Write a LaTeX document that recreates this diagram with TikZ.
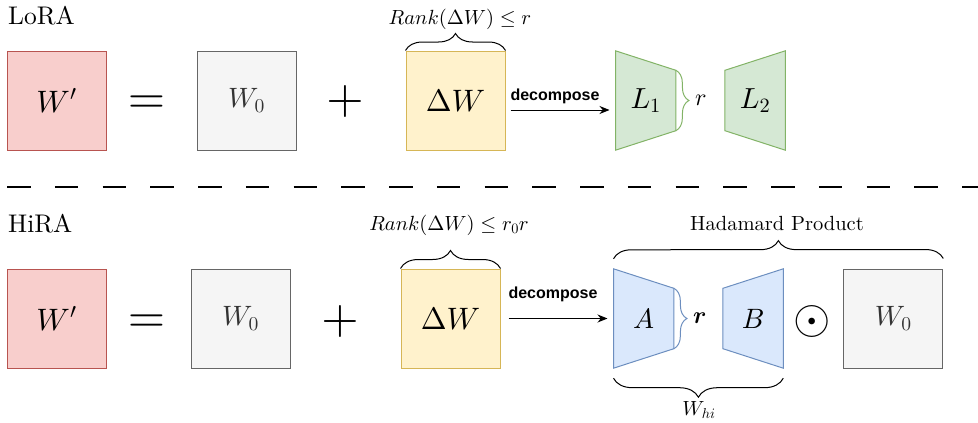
\documentclass[tikz,border=0pt]{standalone}
\usepackage{fontspec}
\usepackage{bm}
\setmainfont{lmroman10-regular.otf}
\newfontfamily\decfont{Liberation Sans}
\DeclareFontShape{OML}{cmm}{m}{it}{<->cmmi10}{}
\DeclareFontShape{OML}{cmm}{b}{it}{<->cmmib10}{}
\DeclareFontShape{OT1}{cmr}{m}{n}{<->cmr10}{}
\DeclareFontShape{OMS}{cmsy}{m}{n}{<->cmsy10}{}
\usetikzlibrary{positioning,arrows.meta,decorations.pathreplacing,backgrounds}
\definecolor{redF}{HTML}{F8CECC}
\definecolor{redD}{HTML}{B85450}
\definecolor{greyF}{HTML}{F5F5F5}
\definecolor{greyD}{HTML}{666666}
\definecolor{greyT}{HTML}{333333}
\definecolor{yelF}{HTML}{FFF2CC}
\definecolor{yelD}{HTML}{D6B656}
\definecolor{grnF}{HTML}{D5E8D4}
\definecolor{grnD}{HTML}{82B366}
\definecolor{bluF}{HTML}{DAE8FC}
\definecolor{bluD}{HTML}{6C8EBF}

\begin{document}
\begin{tikzpicture}[x=1pt, y=-1pt,
  every node/.style={inner sep=0pt},
  mat/.style={draw, line width=1pt, minimum size=99pt, font=\fontsize{31}{34}\selectfont},
  redm/.style={mat, fill=redF, draw=redD},
  greym/.style={mat, fill=greyF, draw=greyD, text=greyT, font=\fontsize{28}{30}\selectfont},
  yelm/.style={mat, fill=yelF, draw=yelD},
  trap/.style={minimum width=60pt, minimum height=99pt, font=\fontsize{28}{30}\selectfont},
  grnT/.style={fill=grnF, draw=grnD, line width=1pt},
  bluT/.style={fill=bluF, draw=bluD, line width=1pt},
  op/.style={font=\fontsize{48}{50}\selectfont, text height=24pt, text depth=0pt},
  ttl/.style={anchor=west, font=\fontsize{25.5}{28}\selectfont},
  rk/.style={font=\fontsize{20.5}{24}\selectfont},
  rlbl/.style={font=\fontsize{24}{26}\selectfont},
  brc/.style={decorate, decoration={brace, amplitude=#1}, line width=1pt},
  brc/.default=17pt,
  dec/.style={-{Stealth[length=10pt,width=8pt]}, line width=1pt},
  dlbl/.style={font=\decfont\bfseries\fontsize{16}{18}\selectfont},
  sep/.style={line width=1.8pt, dash pattern=on 23.5pt off 24.25pt}]
\useasboundingbox (0,0) rectangle (978,423);

% LoRA
\node[ttl] (lora) at (8,15.5) {LoRA};
\node[redm] (Wp1) at (56.5,100.5) {$W'$};
\node[greym, right=90pt of Wp1] (W01) {$W_0$};
\node[yelm, right=109pt of W01] (dW1) {$\Delta W$};
\node[trap, right=110pt of dW1, font=\fontsize{29}{30}\selectfont] (L1) {$L_1$};
\node[trap, right=49pt of L1, font=\fontsize{29}{30}\selectfont] (L2) {$L_2$};
\node[op] (eq1) at (146.5,101) {$=$};
\node[op] (pl1) at (345,101) {$+$};
\node[rlbl, right=19pt of L1] (r1) {$r$};
\node[rk] (rk1) at (460,19) {$Rank(\Delta W)\leq r$};
\begin{scope}[on background layer]
\draw[grnT] (L1.north west) -- ([yshift=-19.5pt]L1.north east) -- ([yshift=19.5pt]L1.south east) -- (L1.south west) -- cycle;
\draw[grnT] ([yshift=-19.5pt]L2.north west) -- (L2.north east) -- (L2.south east) -- ([yshift=19.5pt]L2.south west) -- cycle;
\end{scope}
\draw[brc] (dW1.north west) -- (dW1.north east);
\draw[brc=13pt, draw=grnD] ([yshift=-19.5pt]L1.north east) -- ([yshift=19.5pt]L1.south east);
\draw[dec] ([xshift=5pt,yshift=-9.5pt]dW1.east) -- ([xshift=-6pt,yshift=-9.5pt]L1.west)
  node[dlbl, midway, above=6pt, xshift=-5pt] (dc1) {decompose};

% separator
\coordinate (sepL) at (7,187);
\coordinate (sepR) at (978,187);
\draw[sep] (sepL) -- (sepR);

% HiRA
\node[ttl] (hira) at (8,223.5) {HiRA};
\node[redm] (Wp2) at (56.5,318.5) {$W'$};
\node[greym, right=84pt of Wp2] (W02) {$W_0$};
\node[yelm, right=110pt of W02] (dW2) {$\Delta W$};
\node[trap, right=113pt of dW2] (A) {$A$};
\node[trap, right=49pt of A] (B) {$B$};
\node[greym, right=60pt of B] (W03) {$W_0$};
\node[op] (eq2) at (146.5,320) {$=$};
\node[op] (pl2) at (340,321) {$+$};
\node[op] (had) at (812,321.5) {$\odot$};
\node[rlbl, right=19pt of A] (r2) {$\bm{r}$};
\node[rk] (rk2) at (449,225) {$Rank(\Delta W)\leq r_0r$};
\node[rk] (hp) at (777,223) {Hadamard Product};
\node[rk] (whi) at (699,410) {$W_{hi}$};
\begin{scope}[on background layer]
\draw[bluT] (A.north west) -- ([yshift=-19.5pt]A.north east) -- ([yshift=19.5pt]A.south east) -- (A.south west) -- cycle;
\draw[bluT] ([yshift=-19.5pt]B.north west) -- (B.north east) -- (B.south east) -- ([yshift=19.5pt]B.south west) -- cycle;
\end{scope}
\draw[brc=18pt] (dW2.north west) -- (dW2.north east);
\draw[brc=13pt, draw=bluD] ([yshift=-19.5pt]A.north east) -- ([yshift=19.5pt]A.south east);
\draw[brc=18pt] ([yshift=10pt]A.north west) -- ([yshift=10pt]W03.north east);
\draw[brc=19pt] ([yshift=-10pt]B.south east) -- ([yshift=-10pt]A.south west);
\draw[dec] ([xshift=8pt]dW2.east) -- ([xshift=-6pt]A.west)
  node[dlbl, midway, above=16pt, xshift=-5pt] (dc2) {decompose};
\end{tikzpicture}
\end{document}
